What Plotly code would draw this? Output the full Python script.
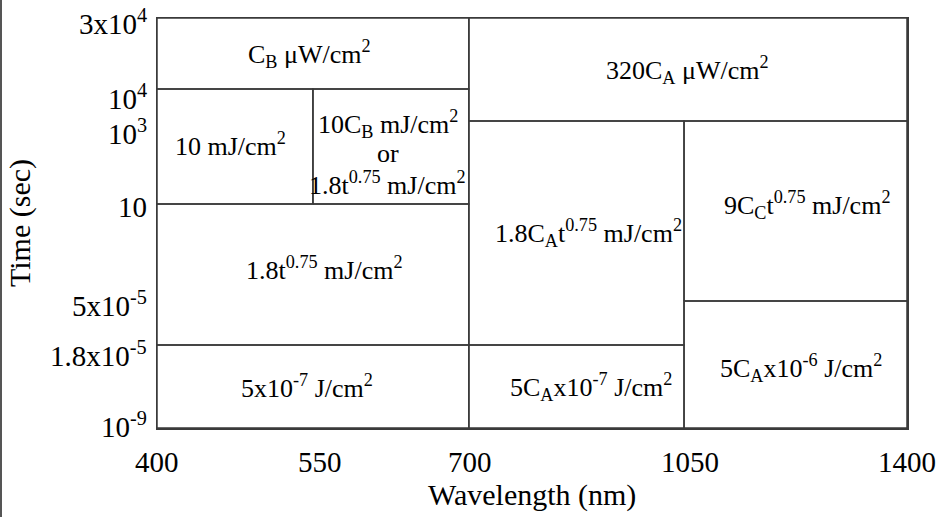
import plotly.graph_objects as go

# Axis scale (schematic, non-linear): boundary values and their display positions
wl_ticks = [400, 550, 700, 1050, 1400]
wl_pos = [0, 1, 2, 3.38, 4.81]
wl_labels = ["400", "550", "700", "1050", "1400"]

t_ticks = [1e-9, 1.8e-5, 5e-5, 10, 1e3, 1e4, 3e4]
t_pos = [0, 0.83, 1.27, 2.24, 3.07, 3.39, 4.10]
t_labels = ["10<sup>-9</sup>", "1.8x10<sup>-5</sup>", "5x10<sup>-5</sup>", "10",
            "10<sup>3</sup>", "10<sup>4</sup>", "3x10<sup>4</sup>"]

# Regions (wavelength range x exposure-time range) and their limits
wl_lo = [400, 700, 400, 550, 400, 400, 700, 1050, 700, 1050]
wl_hi = [700, 1400, 550, 700, 700, 700, 1050, 1400, 1050, 1400]
t_lo = [1e4, 1e3, 10, 10, 1.8e-5, 1e-9, 1.8e-5, 5e-5, 1e-9, 1e-9]
t_hi = [3e4, 3e4, 1e4, 1e4, 10, 1.8e-5, 1e3, 1e3, 1.8e-5, 5e-5]
labels = [
    "C<sub>B</sub> \u03bcW/cm<sup>2</sup>",
    "320C<sub>A</sub> \u03bcW/cm<sup>2</sup>",
    "10 mJ/cm<sup>2</sup>",
    "10C<sub>B</sub> mJ/cm<sup>2</sup><br>or<br>1.8t<sup>0.75</sup> mJ/cm<sup>2</sup>",
    "1.8t<sup>0.75</sup> mJ/cm<sup>2</sup>",
    "5x10<sup>-7</sup> J/cm<sup>2</sup>",
    "1.8C<sub>A</sub>t<sup>0.75</sup> mJ/cm<sup>2</sup>",
    "9C<sub>C</sub>t<sup>0.75</sup> mJ/cm<sup>2</sup>",
    "5C<sub>A</sub>x10<sup>-7</sup> J/cm<sup>2</sup>",
    "5C<sub>A</sub>x10<sup>-6</sup> J/cm<sup>2</sup>",
]

# label nudges in pixels (style only)
label_dx = [-3, 0, -4, -3, 12, -6, 12, 11, 15, 5]
label_dy = [0, 0, 2, -7, 6, 0, 0, 6, 0, -3]
line_gap = 30
ytick_dy = [3, -9, -3, -3, -11, -8, -4]     # per y tick label, pixels
xtick_dx = [0, 7, 1, 6, 0]

xmap = dict(zip(wl_ticks, wl_pos))
ymap = dict(zip(t_ticks, t_pos))

FONT = "Liberation Serif"
LINE = "#3a3a3a"
BLACK = "#000000"

fig = go.Figure()
annotations = []
for i in range(len(labels)):
    x0, x1 = xmap[wl_lo[i]], xmap[wl_hi[i]]
    y0, y1 = ymap[t_lo[i]], ymap[t_hi[i]]
    fig.add_trace(go.Scatter(
        x=[x0, x1, x1, x0, x0], y=[y0, y0, y1, y1, y0],
        mode="lines", line=dict(color=LINE, width=1.5),
        hoverinfo="skip", showlegend=False))
    parts = labels[i].split("<br>")
    n = len(parts)
    for k, part in enumerate(parts):
        annotations.append(dict(
            x=(x0 + x1) / 2, y=(y0 + y1) / 2, xref="x", yref="y",
            text=part, showarrow=False, xshift=label_dx[i],
            yshift=label_dy[i] + ((n - 1) / 2 - k) * line_gap,
            font=dict(family=FONT, size=26, color=BLACK),
            xanchor="center", yanchor="middle", align="center"))

# y tick labels (hand-placed in the original)
for v, txt, dy in zip(t_pos, t_labels, ytick_dy):
    annotations.append(dict(
        x=0, y=v, xref="paper", yref="y", text=txt, showarrow=False,
        xanchor="right", yanchor="middle", xshift=-8, yshift=dy,
        font=dict(family=FONT, size=29, color=BLACK)))

# x tick labels
for v, txt, dx in zip(wl_pos, wl_labels, xtick_dx):
    annotations.append(dict(
        x=v, y=0, xref="x", yref="paper", text=txt, showarrow=False,
        xanchor="center", yanchor="top", xshift=dx, yshift=-16,
        font=dict(family=FONT, size=29, color=BLACK)))

# axis titles
annotations.append(dict(
    x=0.5, y=0, xref="paper", yref="paper", text="Wavelength (nm)", showarrow=False,
    xanchor="center", yanchor="middle", yshift=-67,
    font=dict(family=FONT, size=30, color=BLACK)))
annotations.append(dict(
    x=0, y=0.5, xref="paper", yref="paper", text="Time (sec)", showarrow=False,
    xanchor="center", yanchor="middle", xshift=-137, textangle=-90,
    font=dict(family=FONT, size=30, color=BLACK)))

fig.update_layout(
    width=947, height=517,
    margin=dict(l=157, r=40, t=18, b=89, autoexpand=False),
    paper_bgcolor="white", plot_bgcolor="white",
    font=dict(family=FONT, color=BLACK),
    annotations=annotations,
    shapes=[dict(type="line", xref="paper", yref="paper",
                 x0=-156 / 750, x1=-156 / 750, y0=-89 / 410, y1=428 / 410,
                 line=dict(color="#555555", width=2))],
)
fig.update_xaxes(
    range=[wl_pos[0], wl_pos[-1]], showticklabels=False, ticks="",
    showgrid=False, zeroline=False, showline=True, mirror=True,
    linecolor=LINE, linewidth=1.5, fixedrange=True,
)
fig.update_yaxes(
    range=[t_pos[0], t_pos[-1]], showticklabels=False, ticks="",
    showgrid=False, zeroline=False, showline=True, mirror=True,
    linecolor=LINE, linewidth=1.5, fixedrange=True,
)

fig.write_html("out.html", config={"displayModeBar": False, "staticPlot": True},
               post_script="document.body.style.margin='0';document.body.style.overflow='hidden';")
